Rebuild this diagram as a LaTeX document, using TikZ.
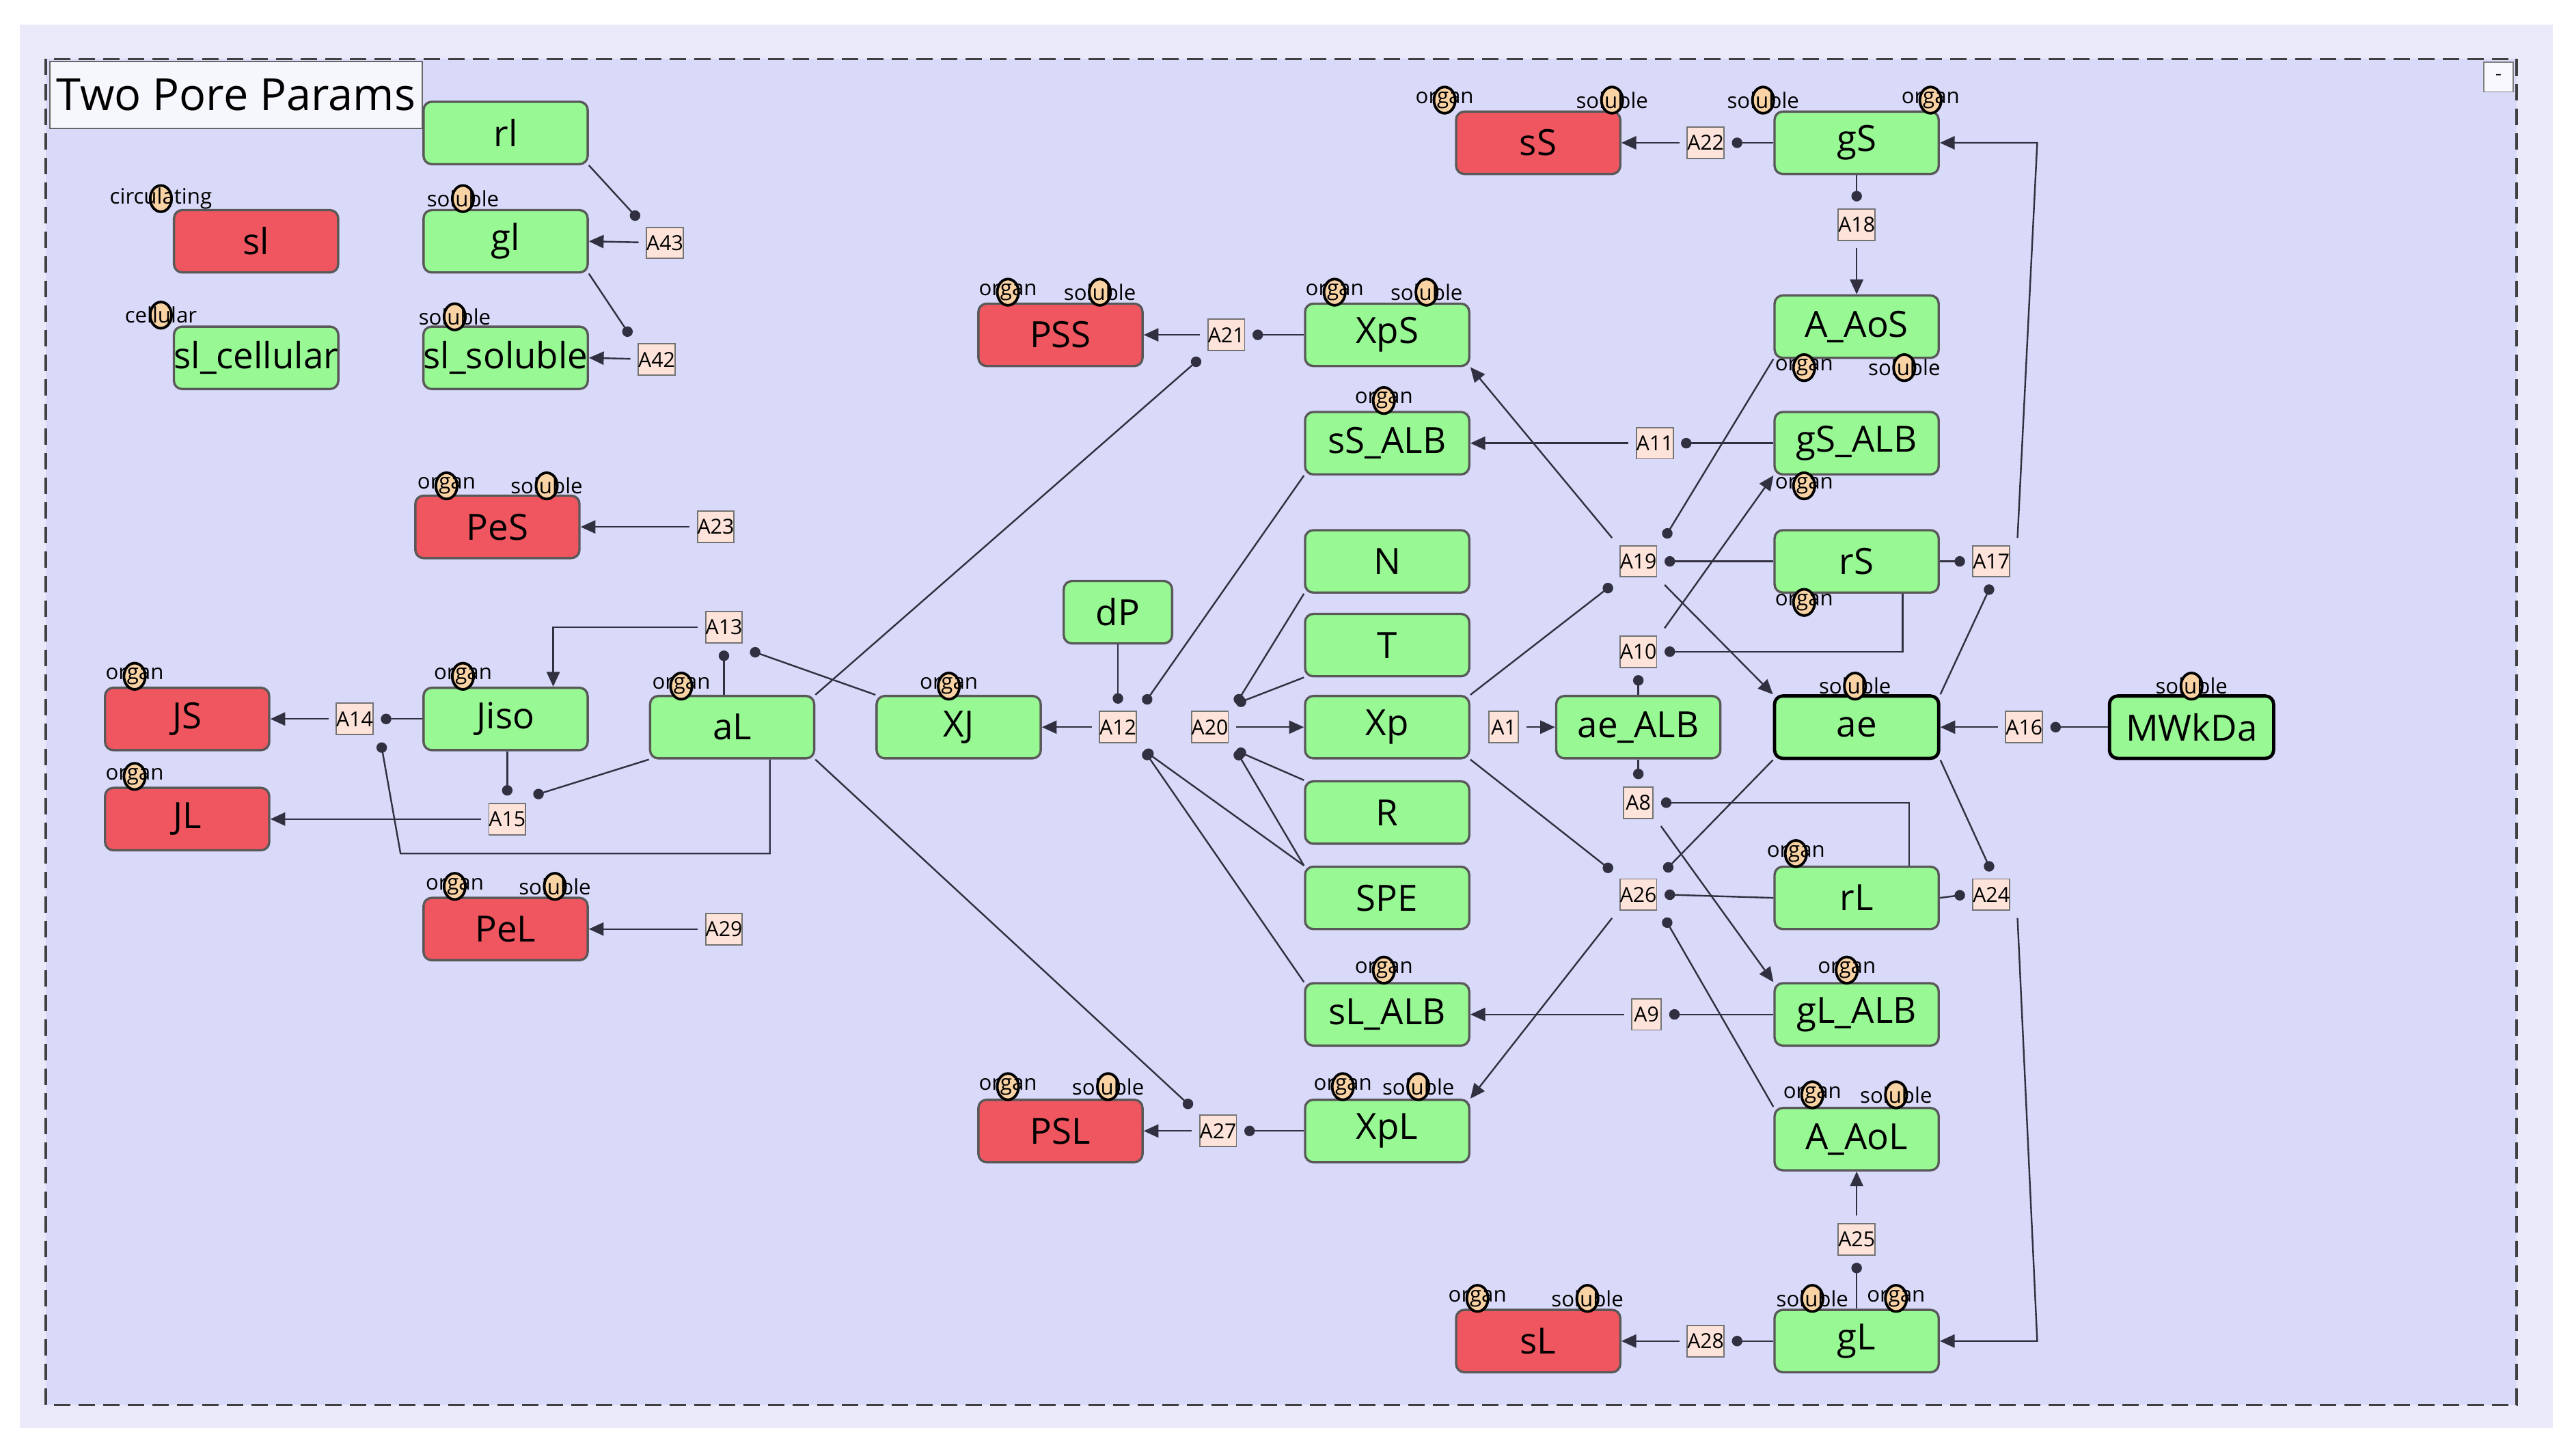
\documentclass[tikz,border=0pt]{standalone}
\usepackage{fontspec}
\setmainfont{Open Sans}
\usetikzlibrary{arrows.meta,shapes.geometric}
\definecolor{sgreen}{HTML}{98F894}
\definecolor{sred}{HTML}{F05660}
\definecolor{rxfill}{HTML}{FDE3DA}
\definecolor{outerbg}{HTML}{E9E9FA}
\definecolor{innerbg}{HTML}{D9D9FA}
\definecolor{portc}{HTML}{FAD3A4}
\definecolor{edgec}{HTML}{303040}
\tikzset{
  sp/.style={draw=black!65, line width=0.7pt, rounded corners=2.5pt, minimum width=50pt, minimum height=19pt, inner sep=0pt, font=\fontsize{11}{12}\selectfont, fill=sgreen},
  red/.style={sp, fill=sred},
  rx/.style={draw=black!55, fill=rxfill, minimum width=9pt, minimum height=9.5pt, inner sep=0pt, outer sep=2.4pt, font=\fontsize{6.3}{6.5}\selectfont},
  sub/.style={draw=edgec, line width=0.5pt, -{Circle[length=3.2pt]}},
  prod/.style={draw=edgec, line width=0.5pt, -{Triangle[length=4.5pt,width=4pt]}},
  portdot/.style={ellipse, draw=black, line width=0.8pt, fill=portc, minimum width=6.5pt, minimum height=8pt, inner sep=0pt},
  porttext/.style={inner sep=0pt, font=\fontsize{6.5}{6.5}\selectfont},
}
\newcommand{\prt}[3]{\node[portdot] (#1) at (#2) {}; \node[porttext] (#1t) at (#2) {#3};}
\begin{document}
\begin{tikzpicture}[x=0.5pt,y=-0.5pt]
\useasboundingbox (0,0) rectangle (1568,887);
\fill[white] (0,0) rectangle (1568,887);
\fill[outerbg] (12,15) rectangle (1555,870);
\draw[fill=innerbg, dash pattern=on 5pt off 2.5pt, line width=0.8pt, draw=black!75] (28,36) rectangle (1533,856);
\node[draw=black!60, fill=white!60!outerbg, minimum width=110pt, minimum height=20.5pt, inner sep=2pt, anchor=north west, font=\fontsize{13.5}{14}\selectfont] (title) at (30,37) {Two Pore Params};
\node[draw=black!50, fill=white!70!outerbg, minimum size=9pt, inner sep=0pt, font=\fontsize{6}{6}\selectfont] (minbtn) at (1522,47) {-};

% species
\node[sp] (rl) at (308,81) {rl};
\node[red] (sl) at (156,147) {sl};
\node[sp] (gl) at (308,147) {gl};
\node[sp] (slc) at (156,218) {sl\_cellular};
\node[sp] (sls) at (308,218) {sl\_soluble};
\node[red] (PeS) at (303,321) {PeS};
\node[red] (JS) at (114,438) {JS};
\node[sp] (Jiso) at (308,438) {Jiso};
\node[sp] (aL) at (446,443) {aL};
\node[sp] (XJ) at (584,443) {XJ};
\node[red] (JL) at (114,499) {JL};
\node[red] (PeL) at (308,566) {PeL};
\node[sp, minimum width=33pt] (dP) at (681,373) {dP};
\node[red] (PSS) at (646,204) {PSS};
\node[sp] (XpS) at (845,204) {XpS};
\node[sp] (sSALB) at (845,270) {sS\_ALB};
\node[sp] (N) at (845,342) {N};
\node[sp] (T) at (845,393) {T};
\node[sp] (Xp) at (845,443) {Xp};
\node[sp] (R) at (845,495) {R};
\node[sp] (SPE) at (845,547) {SPE};
\node[sp] (sLALB) at (845,618) {sL\_ALB};
\node[sp] (XpL) at (845,689) {XpL};
\node[red] (PSL) at (646,689) {PSL};
\node[red] (sS) at (937,87) {sS};
\node[sp] (gS) at (1131,87) {gS};
\node[sp] (AAoS) at (1131,199) {A\_AoS};
\node[sp] (gSALB) at (1131,270) {gS\_ALB};
\node[sp] (rS) at (1131,342) {rS};
\node[sp, draw=black, line width=1pt] (ae) at (1131,443) {ae};
\node[sp] (aeALB) at (998,443) {ae\_ALB};
\node[sp, draw=black, line width=1pt] (MW) at (1335,443) {MWkDa};
\node[sp] (rL) at (1131,547) {rL};
\node[sp] (gLALB) at (1131,618) {gL\_ALB};
\node[sp] (AAoL) at (1131,694) {A\_AoL};
\node[sp] (gL) at (1131,817) {gL};
\node[red] (sL) at (937,817) {sL};

% reactions
\node[rx] (A43) at (405,148) {A43};
\node[rx] (A42) at (400,219) {A42};
\node[rx] (A23) at (436,321) {A23};
\node[rx] (A13) at (441,382) {A13};
\node[rx] (A14) at (216,438) {A14};
\node[rx] (A15) at (309,499) {A15};
\node[rx] (A29) at (441,566) {A29};
\node[rx] (A21) at (747,204) {A21};
\node[rx] (A12) at (681,443) {A12};
\node[rx] (A20) at (737,443) {A20};
\node[rx] (A1) at (916,443) {A1};
\node[rx] (A27) at (742,689) {A27};
\node[rx] (A22) at (1039,87) {A22};
\node[rx] (A18) at (1131,137) {A18};
\node[rx] (A11) at (1008,270) {A11};
\node[rx] (A19) at (998,342) {A19};
\node[rx] (A17) at (1213,342) {A17};
\node[rx] (A10) at (998,397) {A10};
\node[rx] (A16) at (1233,443) {A16};
\node[rx] (A8) at (998,489) {A8};
\node[rx] (A26) at (998,545) {A26};
\node[rx] (A24) at (1213,545) {A24};
\node[rx] (A9) at (1003,618) {A9};
\node[rx] (A25) at (1131,755) {A25};
\node[rx] (A28) at (1039,817) {A28};

% helper coordinates
\coordinate (c13) at (337,382);
\coordinate (c14a) at (469,520);
\coordinate (c14b) at (244,520);
\coordinate (c10) at (1159,397);
\coordinate (c17) at (1241,87);
\coordinate (c8) at (1163,489);
\coordinate (c24) at (1241,817);

% edges
\draw[sub] (rl.south east) -- (A43.north west);
\draw[prod] (A43) -- (gl.east);
\draw[sub] (gl.south east) -- (A42.north west);
\draw[prod] (A42) -- (sls.east);
\draw[prod] (A23) -- (PeS.east);
\draw[prod] (A29) -- (PeL.east);
\draw[sub] (aL.north -| A13) -- (A13.south);
\draw[sub] (XJ.north west) -- (A13.south east);
\draw[prod] (A13.west) -- (c13) -- (c13 |- Jiso.north);
\draw[sub] (Jiso.west) -- (A14.east);
\draw[prod] (A14) -- (JS.east);
\draw[sub] (aL.south -| c14a) -- (c14a) -- (c14b) -- (A14.south east);
\draw[sub] (Jiso.south -| A15) -- (A15.north);
\draw[sub] (aL.south west) -- (A15.north east);
\draw[prod] (A15) -- (JL.east);
\draw[sub] (XpS.west) -- (A21.east);
\draw[prod] (A21) -- (PSS.east);
\draw[sub] (aL.north east) -- (A21.south west);
\draw[sub] (XpL.west) -- (A27.east);
\draw[prod] (A27) -- (PSL.east);
\draw[sub] (aL.south east) -- (A27.north west);
\draw[sub] (dP.south) -- (A12.north);
\draw[sub] (sSALB.south west) -- (A12.north east);
\draw[sub] (SPE.north west) -- (A12.south east);
\draw[sub] (sLALB.north west) -- (A12.south east);
\draw[prod] (A12) -- (XJ.east);
\draw[sub] (N.south west) -- (A20.north east);
\draw[sub] (T.south west) -- (A20.north east);
\draw[sub] (R.north west) -- (A20.south east);
\draw[sub] (SPE.north west) -- (A20.south east);
\draw[prod] (A20) -- (Xp.west);
\draw[prod] (A1) -- (aeALB.west);
\draw[sub] (rS.west) -- (A19.east);
\draw[sub] (AAoS.south west) -- (A19.north east);
\draw[sub] (Xp.north east) -- (A19.south west);
\draw[prod] (A19.north west) -- (XpS.south east);
\draw[prod] (A19.south east) -- (ae.north west);
\draw[sub] (rS.south -| c10) -- (c10) -- (A10.east);
\draw[sub] (aeALB.north) -- (A10.south);
\draw[prod] (A10.north east) -- (gSALB.south west);
\draw[sub] (gSALB.west) -- (A11.east);
\draw[prod] (A11) -- (sSALB.east);
\draw[sub] (gS.west) -- (A22.east);
\draw[prod] (A22) -- (sS.east);
\draw[sub] (gS.south) -- (A18.north);
\draw[prod] (A18) -- (AAoS.north);
\draw[sub] (rS.east) -- (A17.west);
\draw[sub] (ae.north east) -- (A17.south);
\draw[prod] (A17.north east) -- (c17) -- (gS.east);
\draw[sub] (MW.west) -- (A16.east);
\draw[prod] (A16) -- (ae.east);
\draw[sub] (aeALB.south) -- (A8.north);
\draw[sub] (rL.north -| c8) -- (c8) -- (A8.east);
\draw[prod] (A8.south east) -- (gLALB.north west);
\draw[sub] (rL.west) -- (A26.east);
\draw[sub] (Xp.south east) -- (A26.north west);
\draw[sub] (ae.south west) -- (A26.north east);
\draw[sub] (AAoL.north west) -- (A26.south east);
\draw[prod] (A26.south west) -- (XpL.north east);
\draw[sub] (rL.east) -- (A24.west);
\draw[sub] (ae.south east) -- (A24.north);
\draw[prod] (A24.south east) -- (c24) -- (gL.east);
\draw[sub] (gLALB.west) -- (A9.east);
\draw[prod] (A9) -- (sLALB.east);
\draw[sub] (gL.north) -- (A25.south);
\draw[prod] (A25) -- (AAoL.south);
\draw[sub] (gL.west) -- (A28.east);
\draw[prod] (A28) -- (sL.east);

% ports
\prt{p1}{98,121}{circulating}
\prt{p2}{282,121}{soluble}
\prt{p3}{98,192}{cellular}
\prt{p4}{277,193}{soluble}
\prt{p5}{272,296}{organ}
\prt{p6}{333,296}{soluble}
\prt{p7}{82,412}{organ}
\prt{p8}{282,412}{organ}
\prt{p9}{415,418}{organ}
\prt{p10}{578,418}{organ}
\prt{p11}{82,473}{organ}
\prt{p12}{277,540}{organ}
\prt{p13}{338,540}{soluble}
\prt{p14}{614,178}{organ}
\prt{p15}{670,178}{soluble}
\prt{p16}{813,178}{organ}
\prt{p17}{869,178}{soluble}
\prt{p18}{843,244}{organ}
\prt{p19}{843,591}{organ}
\prt{p20}{818,662}{organ}
\prt{p21}{864,662}{soluble}
\prt{p22}{614,662}{organ}
\prt{p23}{675,662}{soluble}
\prt{p24}{880,61}{organ}
\prt{p25}{982,61}{soluble}
\prt{p26}{1074,61}{soluble}
\prt{p27}{1176,61}{organ}
\prt{p28}{1099,224}{organ}
\prt{p29}{1160,224}{soluble}
\prt{p30}{1099,296}{organ}
\prt{p31}{1099,367}{organ}
\prt{p32}{1130,418}{soluble}
\prt{p33}{1335,418}{soluble}
\prt{p34}{1094,520}{organ}
\prt{p35}{1125,591}{organ}
\prt{p36}{1104,667}{organ}
\prt{p37}{1155,667}{soluble}
\prt{p38}{900,791}{organ}
\prt{p39}{967,791}{soluble}
\prt{p40}{1104,791}{soluble}
\prt{p41}{1155,791}{organ}
\end{tikzpicture}
\end{document}
